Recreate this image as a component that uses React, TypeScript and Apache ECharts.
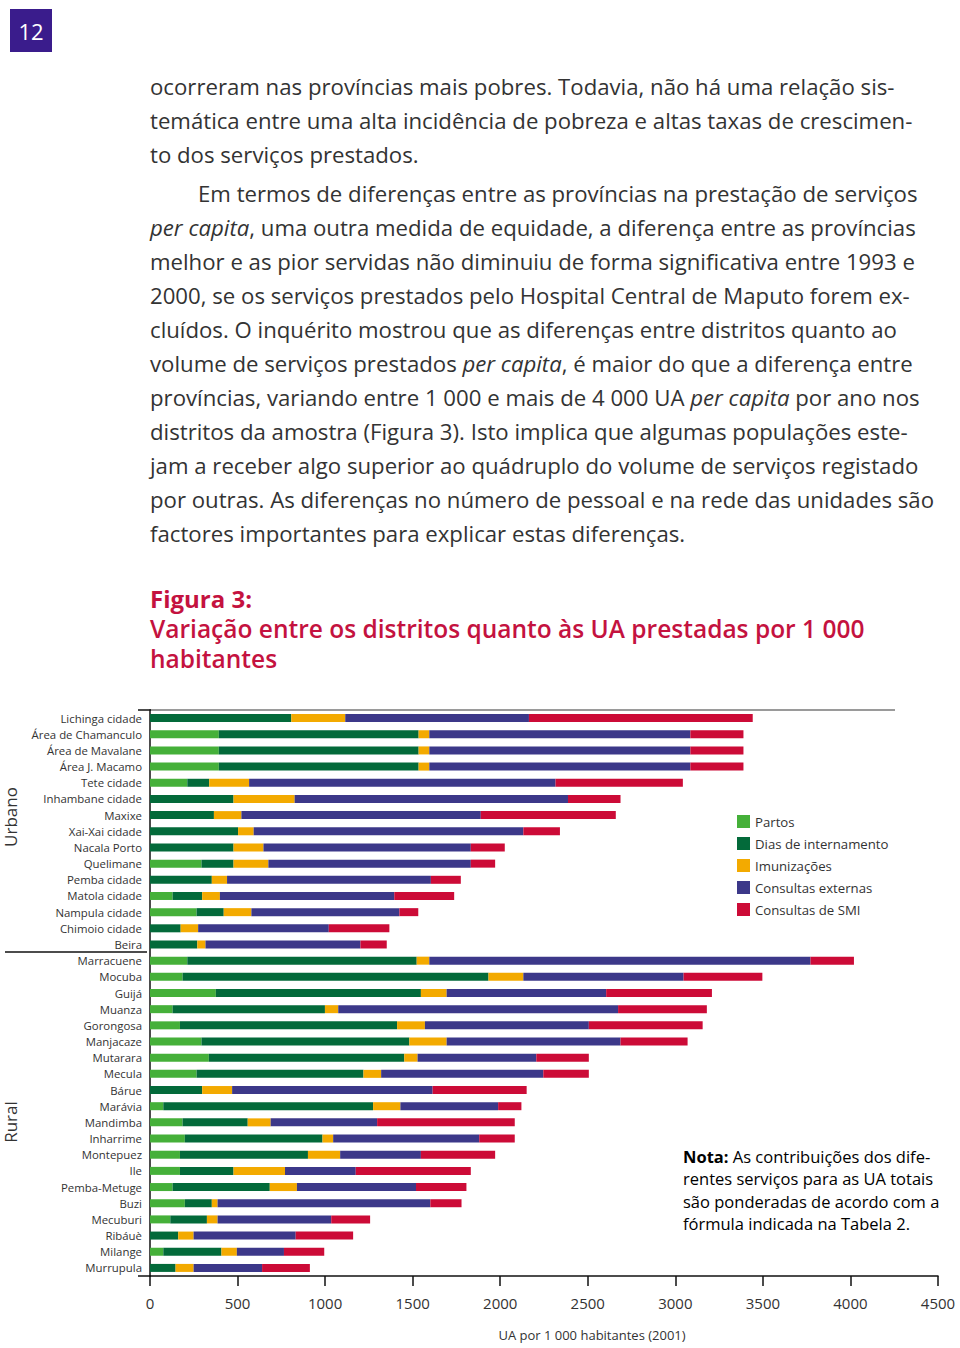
import React, { useEffect, useRef } from "react";
import * as echarts from "echarts";

const categories = [
  "Lichinga cidade", "Área de Chamanculo", "Área de Mavalane", "Área J. Macamo", "Tete cidade",
  "Inhambane cidade", "Maxixe", "Xai-Xai cidade", "Nacala Porto", "Quelimane", "Pemba cidade",
  "Matola cidade", "Nampula cidade", "Chimoio cidade", "Beira",
  "Marracuene", "Mocuba", "Guijá", "Muanza", "Gorongosa", "Manjacaze", "Mutarara", "Mecula",
  "Bárue", "Marávia", "Mandimba", "Inharrime", "Montepuez", "Ile", "Pemba-Metuge", "Buzi",
  "Mecuburi", "Ribáuè", "Milange", "Murrupula",
];

const partos = [0, 393, 393, 393, 213, 0, 0, 0, 0, 294, 0, 129, 266, 0, 0,
  213, 186, 376, 129, 171, 294, 336, 266, 0, 76, 186, 199, 171, 171, 129, 199, 116, 0, 76, 0];
const diasInternamento = [807, 1141, 1141, 1141, 125, 477, 365, 503, 477, 183, 353, 169, 155, 175, 270,
  1310, 1747, 1171, 870, 1240, 1187, 1116, 953, 298, 1198, 372, 786, 731, 306, 555, 154, 209, 161, 332, 146];
const imunizacoes = [308, 61, 61, 61, 228, 349, 157, 89, 171, 199, 87, 101, 158, 100, 47,
  72, 199, 147, 76, 159, 213, 76, 101, 171, 156, 131, 61, 184, 294, 155, 33, 61, 88, 88, 103];
const consultasExternas = [1049, 1491, 1491, 1491, 1750, 1561, 1367, 1540, 1184, 1156, 1164, 996, 845, 746, 885,
  2177, 915, 911, 1598, 936, 993, 678, 926, 1145, 558, 608, 834, 461, 404, 680, 1215, 649, 583, 269, 391];
const consultasSMI = [1278, 303, 303, 303, 727, 300, 771, 209, 194, 139, 171, 342, 108, 346, 150,
  248, 450, 604, 507, 650, 383, 300, 260, 537, 133, 786, 203, 424, 657, 288, 178, 222, 328, 230, 273];

const seriesNames = ["Partos", "Dias de internamento", "Imunizações", "Consultas externas", "Consultas de SMI"];
const seriesColors = ["#45b039", "#036a3a", "#f3aa00", "#3c3889", "#cc0b37"];
const xTicks = { min: 0, max: 4500, interval: 500 };

const paragraphLines = [
  "ocorreram nas províncias mais pobres. Todavia, não há uma relação sis-",
  "temática entre uma alta incidência de pobreza e altas taxas de crescimen-",
  "to dos serviços prestados.",
  "Em termos de diferenças entre as províncias na prestação de serviços",
  "{i|per capita}, uma outra medida de equidade, a diferença entre as províncias",
  "melhor e as pior servidas não diminuiu de forma significativa entre 1993 e",
  "2000, se os serviços prestados pelo Hospital Central de Maputo forem ex-",
  "cluídos. O inquérito mostrou que as diferenças entre distritos quanto ao",
  "volume de serviços prestados {i|per capita}, é maior do que a diferença entre",
  "províncias, variando entre 1 000 e mais de 4 000 UA {i|per capita} por ano nos",
  "distritos da amostra (Figura 3). Isto implica que algumas populações este-",
  "jam a receber algo superior ao quádruplo do volume de serviços registado",
  "por outras. As diferenças no número de pessoal e na rede das unidades são",
  "factores importantes para explicar estas diferenças.",
];

const FONT = "'Open Sans', 'Noto Sans', sans-serif";
const TXT = "#333333";
const RED = "#c4123f";

export default function App() {
  const ref = useRef<HTMLDivElement>(null);
  useEffect(() => {
    document.body.style.margin = "0";
    const chart = echarts.init(ref.current!, null, { renderer: "svg" });
    const seriesData = [partos, diasInternamento, imunizacoes, consultasExternas, consultasSMI];

    const pFont = 22.2;
    const textEls: any[] = paragraphLines.map((line, i) => ({
      type: "text",
      x: i === 3 ? 198 : 150,
      y: 86 + i * 34 + (i >= 3 ? 5 : 0),
      style: {
        text: line.includes("{i|") ? line.replace(/^([^{]+)/, "{n|$1}").replace(/\}([^{}]+)(\{|$)/g, "}{n|$1}$2") : line,
        font: `${pFont}px ${FONT}`,
        fill: TXT,
        textVerticalAlign: "middle",
        rich: {
          n: { fontSize: pFont, fontFamily: FONT, color: TXT },
          i: { fontSize: pFont, fontFamily: FONT, color: TXT, fontStyle: "italic" },
        },
      },
    }));

    chart.setOption({
      animation: false,
      backgroundColor: "#ffffff",
      grid: { left: 150, right: 22, top: 710, bottom: 72, containLabel: false },
      legend: {
        data: seriesNames,
        orient: "vertical",
        left: 737,
        top: 815,
        padding: 0,
        icon: "rect",
        itemWidth: 13,
        itemHeight: 13,
        itemGap: 9,
        textStyle: { fontSize: 13.2, color: TXT, fontFamily: FONT },
      },
      xAxis: {
        type: "value",
        min: xTicks.min,
        max: xTicks.max,
        interval: xTicks.interval,
        axisLine: { show: true, lineStyle: { color: "#111", width: 1.5 } },
        axisTick: { show: true, length: 10, lineStyle: { color: "#111", width: 1.5 }, inside: false },
        axisLabel: { fontSize: 15, color: TXT, fontFamily: FONT, margin: 19, formatter: (v: number) => String(v) },
        splitLine: { show: false },
      },
      yAxis: {
        type: "category",
        data: categories,
        inverse: true,
        axisLine: { show: true, lineStyle: { color: "#111", width: 1.5 } },
        axisTick: { show: false },
        axisLabel: { fontSize: 11.4, color: TXT, fontFamily: FONT, margin: 8 },
      },
      series: seriesNames.map((name, k) => ({
        name,
        type: "bar",
        stack: "total",
        barWidth: 8,
        itemStyle: { color: seriesColors[k] },
        data: seriesData[k],
      })),
      graphic: [
        { type: "rect", shape: { x: 10, y: 9, width: 42, height: 43 }, style: { fill: "#3a1c8c" } },
        { type: "text", x: 31, y: 31, style: { text: "12", font: `22px ${FONT}`, fill: "#fff", textAlign: "center", textVerticalAlign: "middle" } },
        ...textEls,
        { type: "text", left: 150, top: 586, style: { text: "Figura 3:", font: `bold 24px ${FONT}`, fill: RED } },
        { type: "text", left: 150, top: 616, style: { text: "Variação entre os distritos quanto às UA prestadas por 1 000", font: `600 24.5px ${FONT}`, fill: RED } },
        { type: "text", left: 150, top: 646, style: { text: "habitantes", font: `600 24.5px ${FONT}`, fill: RED } },
        { type: "line", shape: { x1: 150, y1: 710, x2: 895, y2: 710 }, style: { stroke: "#9a9a9a", lineWidth: 2 } },
        { type: "line", shape: { x1: 138, y1: 710, x2: 151, y2: 710 }, style: { stroke: "#111", lineWidth: 1.5 } },
        { type: "line", shape: { x1: 138, y1: 1276, x2: 151, y2: 1276 }, style: { stroke: "#111", lineWidth: 1.5 } },
        { type: "line", shape: { x1: 5, y1: 952, x2: 147, y2: 952 }, style: { stroke: "#111", lineWidth: 1.5 } },
        { type: "text", x: 10, y: 817, rotation: Math.PI / 2, style: { text: "Urbano", font: `17px ${FONT}`, fill: TXT, textAlign: "center", textVerticalAlign: "middle" } },
        { type: "text", x: 10, y: 1122, rotation: Math.PI / 2, style: { text: "Rural", font: `17px ${FONT}`, fill: TXT, textAlign: "center", textVerticalAlign: "middle" } },
        { type: "text", x: 592, y: 1335, style: { text: "UA por 1 000 habitantes (2001)", font: `13px ${FONT}`, fill: TXT, textAlign: "center", textVerticalAlign: "middle" } },
        {
          type: "text", left: 683, top: 1148,
          style: {
            text: "{b|Nota:}{n| As contribuições dos dife-}\n{n|rentes serviços para as UA totais}\n{n|são ponderadas de acordo com a}\n{n|fórmula indicada na Tabela 2.}",
            rich: {
              b: { fontSize: 16.5, fontFamily: FONT, fontWeight: "bold", color: "#222", lineHeight: 22.4 },
              n: { fontSize: 16.5, fontFamily: FONT, color: TXT, lineHeight: 22.4 },
            },
          },
        },
      ],
    });
    return () => chart.dispose();
  }, []);
  return <div ref={ref} style={{ position: "absolute", left: 0, top: 0, width: 960, height: 1348, background: "#fff" }} />;
}
